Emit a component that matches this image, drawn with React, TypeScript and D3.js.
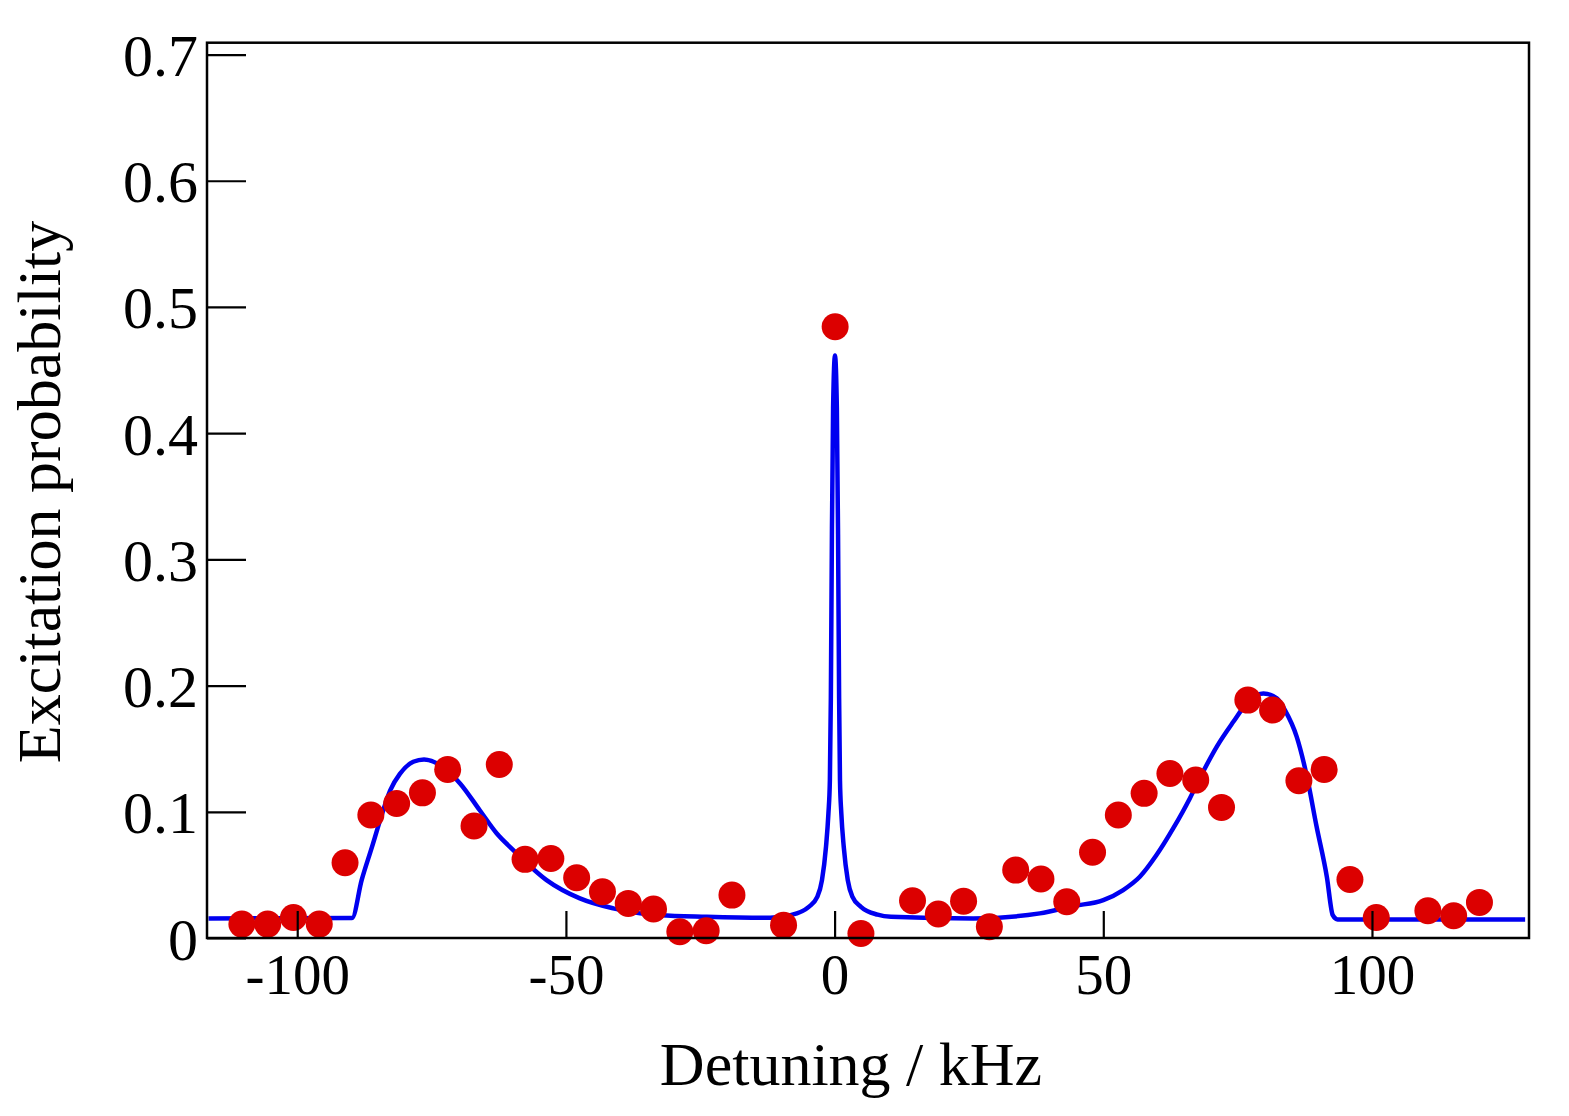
import { useEffect, useRef } from 'react'
import * as d3 from 'd3'

// measured detuning (kHz) and excitation probability
const pointX = [
  -110.3, -105.5, -100.7, -95.9, -91.1, -86.3, -81.5, -76.7, -72.0, -67.1,
  -62.4, -57.6, -52.8, -48.0, -43.2, -38.4, -33.7, -28.8, -23.9, -19.1,
  -9.5, 0.1, 4.9, 14.5, 19.3, 24.0, 28.8, 33.7, 38.4, 43.2,
  48.0, 52.8, 57.6, 62.4, 67.2, 72.0, 76.9, 81.5, 86.4, 91.1,
  95.9, 100.8, 110.4, 115.2, 120.0
]
const pointY = [
  0.011, 0.011, 0.0163, 0.011, 0.0596, 0.0974, 0.1066, 0.115, 0.1336, 0.0887,
  0.1375, 0.0623, 0.063, 0.0477, 0.0366, 0.0274, 0.023, 0.0049, 0.0057, 0.034,
  0.0102, 0.4843, 0.0036, 0.0295, 0.019, 0.0292, 0.0089, 0.0538, 0.0467, 0.0287,
  0.068, 0.0974, 0.1146, 0.1304, 0.1251, 0.1035, 0.1885, 0.1806, 0.1246, 0.1336,
  0.0464, 0.0163, 0.0216, 0.0176, 0.0282
]

// fitted curve
const fitX = [
  -116.5, -89.8, -88.0, -86.1, -84.6, -82.7, -80.9, -78.4, -76.4, -73.4,
  -69.7, -66.0, -62.9, -59.8, -53.6, -47.4, -41.2, -36.2, -32.5, -23.8,
  -12.0, -8.3, -4.8, -3.2, -2.35, -1.6, -1.15, -0.88, -0.7, -0.5,
  -0.28, 0.07, 0.42, 0.64, 0.84, 1.0, 1.25, 1.7, 2.45, 3.3,
  4.9, 8.0, 10.5, 25.8, 38.2, 44.4, 50.0, 53.7, 56.8, 59.9,
  63.0, 66.1, 68.0, 71.1, 74.2, 76.7, 78.6, 79.8, 82.3, 83.8,
  86.0, 87.9, 89.7, 91.6, 92.7, 93.6, 128.5
]
const fitY = [
  0.0155, 0.0158, 0.046, 0.072, 0.093, 0.117, 0.130, 0.1396, 0.1415, 0.137,
  0.1225, 0.101, 0.083, 0.0697, 0.0459, 0.0314, 0.0235, 0.0195, 0.018, 0.0168,
  0.016, 0.018, 0.0247, 0.0327, 0.0459, 0.0723, 0.0987, 0.125, 0.19, 0.32,
  0.42, 0.4615, 0.42, 0.32, 0.19, 0.125, 0.0987, 0.0723, 0.0459, 0.0327,
  0.0247, 0.0185, 0.0168, 0.0155, 0.0195, 0.0253, 0.030, 0.038, 0.0485, 0.0657,
  0.0868, 0.1106, 0.127, 0.1515, 0.1713, 0.1859, 0.1925, 0.1938, 0.19, 0.1806,
  0.1594, 0.1277, 0.0881, 0.0485, 0.0181, 0.0147, 0.0147
]

const xTicks = [-100, -50, 0, 50, 100]
const yTicks = [0, 0.1, 0.2, 0.3, 0.4, 0.5, 0.6, 0.7]

const width = 1569
const height = 1116
const font = "'Liberation Serif', 'Times New Roman', serif"

export default function App() {
  const svgRef = useRef<SVGSVGElement>(null)

  useEffect(() => {
    if (!svgRef.current) return
    const svg = d3.select(svgRef.current)
    svg.selectAll('*').remove()

    const margin = { top: 42.7, right: 40, bottom: 178, left: 207 }

    const x = d3.scaleLinear()
      .domain([-116.79, 129.22])
      .range([margin.left, width - margin.right])

    const y = d3.scaleLinear()
      .domain([0, 0.7094])
      .range([height - margin.bottom, margin.top])

    // fit line
    const fit = fitX.map((d, i) => [d, fitY[i]] as [number, number])
    const line = d3.line<[number, number]>()
      .x(d => x(d[0]))
      .y(d => y(d[1]))
      .curve(d3.curveMonotoneX)

    svg.append('path')
      .datum(fit)
      .attr('d', line)
      .style('fill', 'none')
      .style('stroke', '#0000f0')
      .style('stroke-width', '4.5px')
      .style('stroke-linejoin', 'round')

    // data points
    svg.selectAll('circle.pt')
      .data(pointX.map((d, i) => [d, pointY[i]]))
      .enter()
      .append('circle')
      .attr('class', 'pt')
      .attr('cx', d => x(d[0]))
      .attr('cy', d => y(d[1]))
      .attr('r', 13.5)
      .style('fill', '#dc0000')

    // axes
    const xAxis = svg.append('g')
      .attr('transform', `translate(0,${height - margin.bottom})`)
      .call(d3.axisBottom(x).tickValues(xTicks).tickSize(-27).tickPadding(16).tickFormat(d => String(d)))
    const yAxis = svg.append('g')
      .attr('transform', `translate(${margin.left},0)`)
      .call(d3.axisLeft(y).tickValues(yTicks).tickSize(-39).tickPadding(9)
        .tickFormat(d => (+d === 0 ? '0' : (+d).toFixed(1))))

    ;[xAxis, yAxis].forEach(g => {
      g.select('.domain').remove()
      g.selectAll('line').style('stroke', '#000').style('stroke-width', '2.2px')
      g.selectAll('text').style('fill', '#000').style('font-family', font)
    })
    xAxis.selectAll('text').style('font-size', '57px')
    yAxis.selectAll('text').style('font-size', '60px').attr('dy', '0.35em')

    // frame
    svg.append('rect')
      .attr('x', margin.left)
      .attr('y', margin.top)
      .attr('width', width - margin.left - margin.right)
      .attr('height', height - margin.top - margin.bottom)
      .style('fill', 'none')
      .style('stroke', '#000')
      .style('stroke-width', '2.5px')

    // axis labels
    svg.append('text')
      .attr('x', 851)
      .attr('y', 1085)
      .attr('text-anchor', 'middle')
      .style('font-family', font)
      .style('font-size', '62px')
      .text('Detuning / kHz')

    svg.append('text')
      .attr('transform', 'translate(60,492) rotate(-90)')
      .attr('text-anchor', 'middle')
      .style('font-family', font)
      .style('font-size', '62px')
      .text('Excitation probability')
  }, [])

  return (
    <svg
      ref={svgRef}
      width={width}
      height={height}
      style={{ position: 'absolute', left: 0, top: 0, background: '#fff' }}
    />
  )
}
